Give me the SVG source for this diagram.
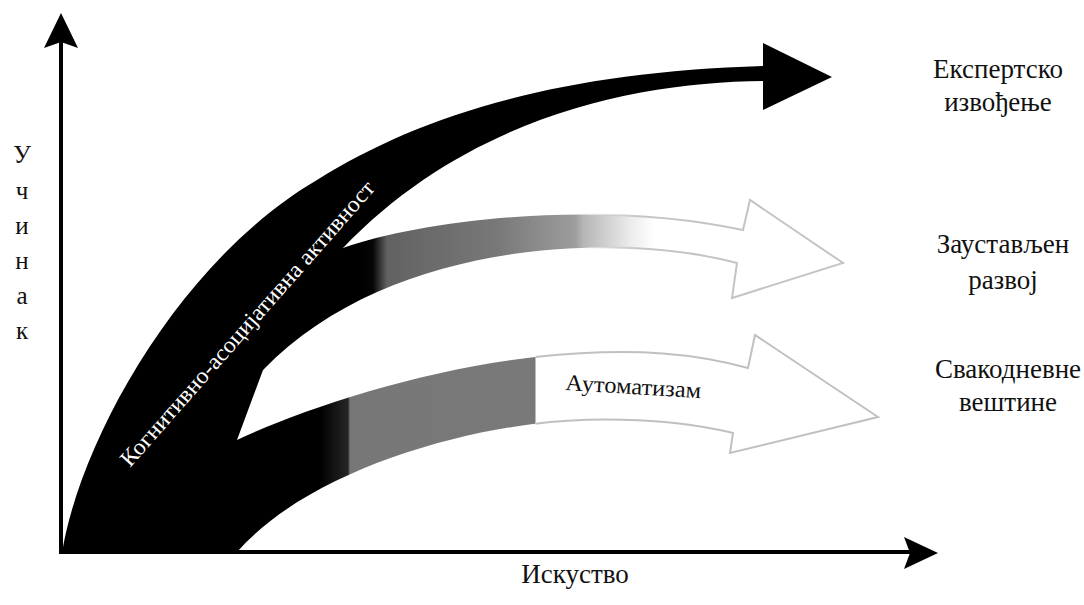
<svg xmlns="http://www.w3.org/2000/svg" width="1084" height="605" viewBox="0 0 1084 605">
  <style>
    text { font-family: "Liberation Serif", "DejaVu Serif", serif; }
    .lbl { font-size: 27px; fill: #111; text-anchor: middle; }
    .ax { font-size: 25px; fill: #111; text-anchor: middle; }
    .inner { fill: #fff; font-size: 23px; }
    .axis { stroke: #000; stroke-width: 4; fill: none; }
    .head { fill: #000; }
  </style>
  <defs>
    <linearGradient id="midFill" gradientUnits="userSpaceOnUse" x1="0" y1="0" x2="1084" y2="0">
      <stop offset="0.3321" stop-color="#000"/>
      <stop offset="0.3441" stop-color="#060606"/>
      <stop offset="0.357" stop-color="#626262"/>
      <stop offset="0.4585" stop-color="#787878"/>
      <stop offset="0.4889" stop-color="#888"/>
      <stop offset="0.5304" stop-color="#9c9c9c"/>
      <stop offset="0.5378" stop-color="#b5b5b5"/>
      <stop offset="0.5812" stop-color="#ebebeb"/>
      <stop offset="0.6042" stop-color="#fff"/>
    </linearGradient>
    <linearGradient id="midStroke" gradientUnits="userSpaceOnUse" x1="0" y1="0" x2="1084" y2="0">
      <stop offset="0.5378" stop-color="#c4c4c4" stop-opacity="0"/>
      <stop offset="0.5904" stop-color="#c4c4c4" stop-opacity="1"/>
    </linearGradient>
    <linearGradient id="botFill" gradientUnits="userSpaceOnUse" x1="0" y1="0" x2="1084" y2="0">
      <stop offset="0.2952" stop-color="#000"/>
      <stop offset="0.321" stop-color="#262626"/>
      <stop offset="0.3229" stop-color="#777"/>
      <stop offset="0.4935" stop-color="#797979"/>
      <stop offset="0.4945" stop-color="#fff"/>
    </linearGradient>
    <linearGradient id="botStroke" gradientUnits="userSpaceOnUse" x1="0" y1="0" x2="1084" y2="0">
      <stop offset="0.4935" stop-color="#c0c0c0" stop-opacity="0"/>
      <stop offset="0.4945" stop-color="#c0c0c0" stop-opacity="1"/>
    </linearGradient>
  </defs>
  <rect width="1084" height="605" fill="#fff"/>

  <g id="arrow-expert">
    <path d="M62,553 C80,440 180,260 317,180 C420,115 560,72 763,66 L763,43 L832,77 L763,110 L763,81 C640,82 470,115 343,248 L263,370 L237,440 L237,553 Z" fill="#000"/>
  </g>
  <g id="arrow-stopped">
    <path d="M343,248 C430,218 600,200 743,230 L750,200 L843,263 L732,298 L737,263 C620,232 390,238 263,370 L240,330 L300,260 Z" fill="url(#midFill)" stroke="url(#midStroke)" stroke-width="2"/>
  </g>
  <g id="arrow-everyday">
    <path d="M237,440 C300,410 420,370 535,357 C640,346 700,355 748,368 L755,335 L878,417 L730,453 L733,433 C680,420 600,415 533,424 C430,437 300,480 237,552 L150,552 L180,450 Z" fill="url(#botFill)" stroke="url(#botStroke)" stroke-width="2"/>
  </g>

  <g id="connectors">
    <line class="axis" x1="61" y1="40" x2="61" y2="554"/>
    <path class="head" d="M61,13 L78,48 L61,42 L44,48 Z"/>
    <line class="axis" x1="59" y1="552" x2="910" y2="552"/>
    <path class="head" d="M938,553 L904,537 L910,553 L904,569 Z"/>
  </g>

  <g id="label-cognitive">
    <text class="inner" transform="translate(130,468) rotate(-48.6)" textLength="372" lengthAdjust="spacingAndGlyphs">Когнитивно-асоцијативна активност</text>
  </g>
  <g id="label-automatism">
    <text class="inner" style="fill:#111" transform="translate(565,390) rotate(3.4)" textLength="136" lengthAdjust="spacingAndGlyphs">Аутоматизам</text>
  </g>
  <g id="label-performance">
    <text class="ax" x="22" y="163">У</text>
    <text class="ax" x="22" y="199">ч</text>
    <text class="ax" x="22" y="234">и</text>
    <text class="ax" x="22" y="269">н</text>
    <text class="ax" x="22" y="304">а</text>
    <text class="ax" x="22" y="339">к</text>
  </g>
  <g id="label-experience">
    <text class="lbl" x="575" y="583">Искуство</text>
  </g>
  <g id="label-expert">
    <text class="lbl" x="998" y="78">Експертско</text>
    <text class="lbl" x="998" y="111">извођење</text>
  </g>
  <g id="label-stopped">
    <text class="lbl" x="1003" y="253">Заустављен</text>
    <text class="lbl" x="1003" y="289">развој</text>
  </g>
  <g id="label-everyday">
    <text class="lbl" x="1008" y="378">Свакодневне</text>
    <text class="lbl" x="1008" y="411">вештине</text>
  </g>
</svg>
